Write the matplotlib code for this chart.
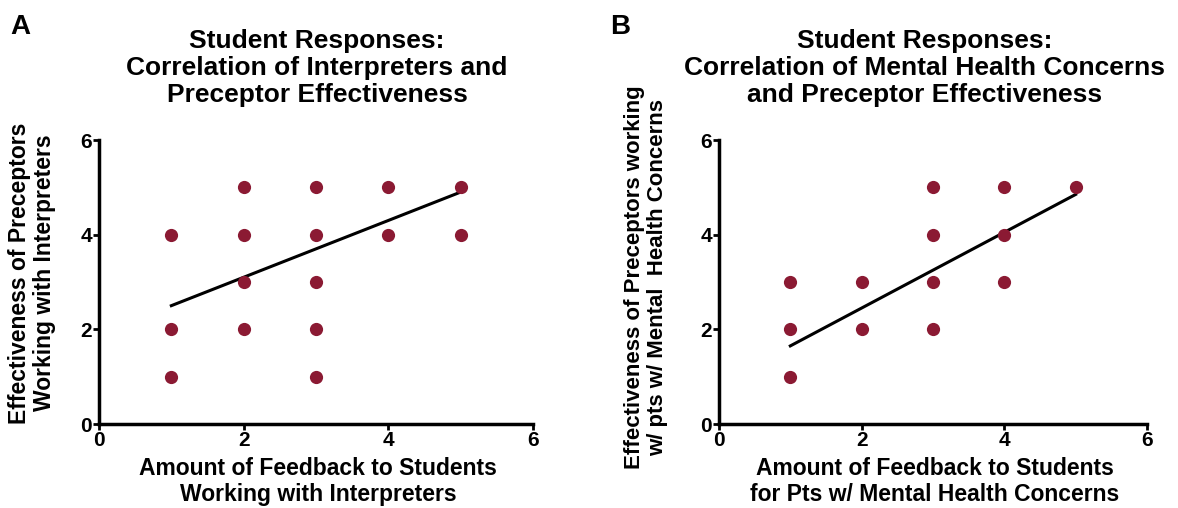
import matplotlib
matplotlib.use("Agg")
import matplotlib.pyplot as plt

plt.rcParams['font.family'] = ['Liberation Sans', 'DejaVu Sans']
plt.rcParams['font.weight'] = 'bold'

# Panel A data
a_x = [1, 1, 1, 2, 2, 2, 2, 3, 3, 3, 3, 3, 4, 4, 5, 5]
a_y = [4, 2, 1, 5, 4, 3, 2, 5, 4, 3, 2, 1, 5, 4, 5, 4]
a_line_x = [1, 5]
a_line_y = [2.5, 4.9]

# Panel B data
b_x = [1, 1, 1, 2, 2, 3, 3, 3, 3, 4, 4, 4, 5]
b_y = [3, 2, 1, 3, 2, 5, 4, 3, 2, 5, 4, 3, 5]
b_line_x = [1, 5]
b_line_y = [1.65, 4.85]

ticks = [0, 2, 4, 6]

titles = ["Student Responses:\nCorrelation of Interpreters and\nPreceptor Effectiveness",
          "Student Responses:\nCorrelation of Mental Health Concerns\nand Preceptor Effectiveness"]
xlabels = ["Amount of Feedback to Students\nWorking with Interpreters",
           "Amount of Feedback to Students\nfor Pts w/ Mental Health Concerns"]
ylabels = ["Effectiveness of Preceptors\nWorking with Interpreters",
           "Effectiveness of Preceptors working\nw/ pts w/ Mental  Health Concerns"]
letters = ["A", "B"]

dot_color = '#8b1a33'

W, H = 1178, 508
fig = plt.figure(figsize=(W / 100, H / 100), dpi=100)

axes_px = [(99, 533), (719, 1147)]
top_px, bot_px = 140, 424

data = [(a_x, a_y, a_line_x, a_line_y), (b_x, b_y, b_line_x, b_line_y)]
ylabel_x = [32, 646]
ylabel_y = [273, 277]
ylabel_size = [16.5, 16]
title_cx = [317, 925]
letter_x = [10, 610]

for i, ((l, r), (xs, ys, lx, ly)) in enumerate(zip(axes_px, data)):
    ax = fig.add_axes([l / W, 1 - bot_px / H, (r - l) / W, (bot_px - top_px) / H])
    ax.plot(xs, ys, 'o', color=dot_color, markersize=9.5, markeredgewidth=0, zorder=3,
            clip_on=False)
    ax.plot(lx, ly, '-', color='black', linewidth=2.2, zorder=2)
    ax.set_xlim(0, 6)
    ax.set_ylim(0, 6)
    ax.set_xticks(ticks)
    ax.set_yticks(ticks)
    ax.tick_params(axis='both', direction='out', length=4, width=2, labelsize=15, pad=1)
    for lab in ax.get_xticklabels() + ax.get_yticklabels():
        lab.set_fontweight('bold')
    for s in ['top', 'right']:
        ax.spines[s].set_visible(False)
    for s in ['left', 'bottom']:
        ax.spines[s].set_linewidth(2.5)
        ax.spines[s].set_capstyle('projecting')
    ax.patch.set_alpha(0)
    cx = (l + r) / 2
    fig.text(title_cx[i] / W, 1 - 29 / H, titles[i], ha='center', va='top', fontsize=19,
             fontweight='bold', linespacing=1.17)
    fig.text((cx + 2) / W, 1 - 457 / H, xlabels[i], ha='center', va='top', fontsize=16.5,
             fontweight='bold', linespacing=1.15)
    fig.text(ylabel_x[i] / W, 1 - ylabel_y[i] / H, ylabels[i], ha='center', va='center',
             rotation=90, fontsize=ylabel_size[i], fontweight='bold', linespacing=1.15)
    fig.text(letter_x[i] / W, 1 - 14 / H, letters[i], ha='left', va='top', fontsize=20,
             fontweight='bold')

fig.savefig('out.png', dpi=100)
